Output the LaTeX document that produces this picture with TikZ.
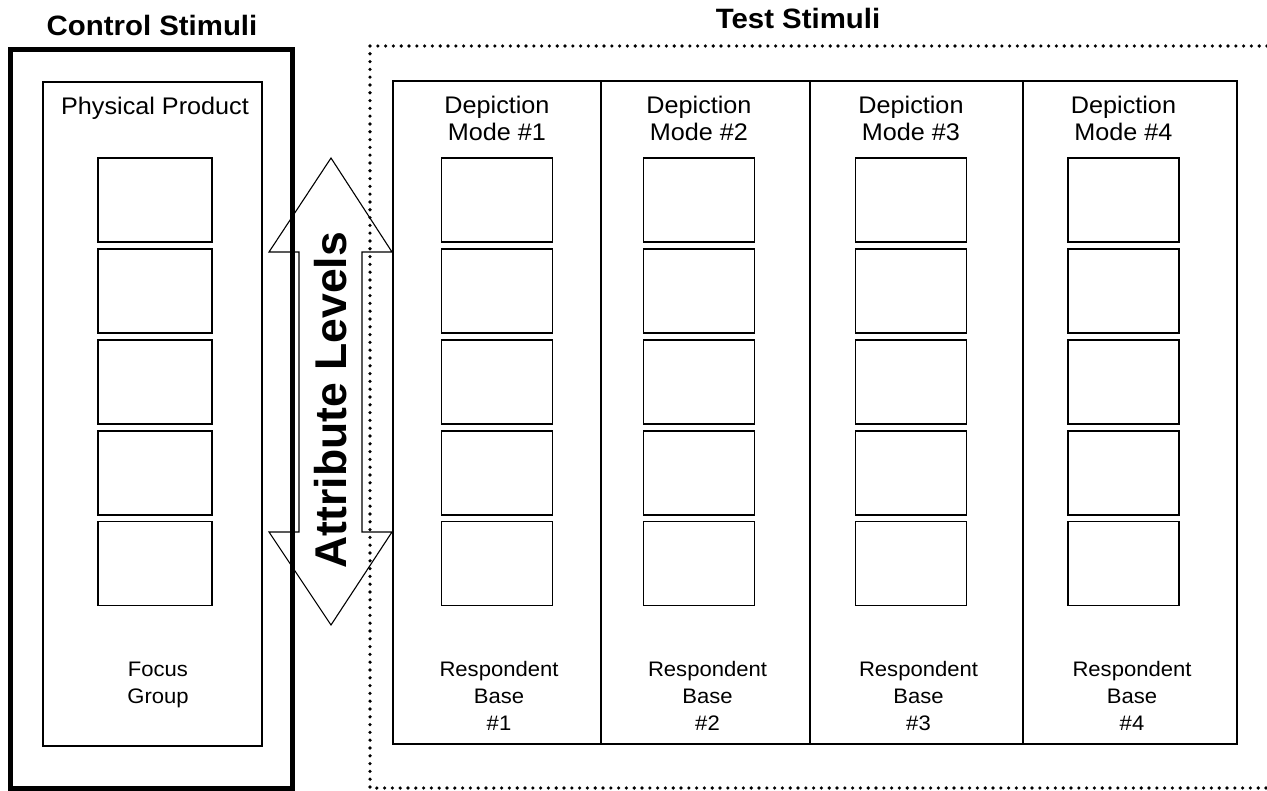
\documentclass[tikz,border=0pt]{standalone}
\usepackage{fontspec}
\setmainfont{Liberation Sans}[FakeStretch=1.05]
\newfontfamily\arrowfont{Liberation Sans}
\begin{document}
\begin{tikzpicture}[x=1pt,y=-1pt,
  thinline/.style={line width=1.1pt},
  heavybox/.style={draw, line width=5pt, inner sep=0pt},
  panel/.style={draw, thinline, inner sep=0pt},
  cell/.style={draw, thinline, inner sep=0pt, minimum height=84pt},
  heading/.style={font=\fontsize{28}{32}\selectfont\bfseries},
  toplabel/.style={align=center, font=\fontsize{24}{27}\selectfont},
  botlabel/.style={align=center, font=\fontsize{21}{27}\selectfont},
  dotline/.style={line width=3.6pt, line cap=round, dash pattern=on 0pt off 7.8pt}]
\useasboundingbox (0,0) rectangle (1267,791);

% group headings
\node[heading] (ctitle) at (152,25) {Control Stimuli};
\node[heading] (ttitle) at (798,18.5) {Test Stimuli};

% dotted frame of the test group, open to the right
\coordinate (dtr) at (1267,46);
\coordinate (dtl) at (370,46);
\coordinate (dbl) at (370,788);
\coordinate (dbr) at (1267,788);
\draw[dotline] (dtr) -- (dtl) -- (dbl) -- (dbr);

% control group
\node[heavybox, minimum width=282pt, minimum height=738pt] (control) at (151,419) {};
\node[panel, minimum width=219pt, minimum height=664pt] (physical) at (152.5,414) {};
\node[toplabel] (physlabel) at (155,108) {Physical Product};
\foreach \i/\y in {1/200,2/291,3/382,4/473,5/563.5}
  \node[cell, minimum width=114pt] (ctl\i) at (155,\y) {};
\node[botlabel] (focus) at (158,685) {Focus\\Group};

% test group: four depiction modes
\foreach \k/\cx/\w/\bx in {1/497/208/497, 2/705.5/209/699, 3/916.5/213/911, 4/1130/214/1123.5} {
  \node[panel, minimum width=\w pt, minimum height=663pt] (mode\k) at (\cx,412.5) {};
  \node[toplabel] (mlabel\k) at (\bx,118.5) {Depiction\\Mode \#\k};
  \foreach \i/\y in {1/200,2/291,3/382,4/473,5/563.5}
    \node[cell, minimum width=111pt] (m\k c\i) at (\bx,\y) {};
  \node[botlabel] (base\k) at (\cx+2,696) {Respondent\\Base\\\#\k};
}

% double-headed arrow for the attribute levels
\draw[thinline, line join=miter]
  (331,158) -- (392,252) -- (362,252) -- (362,532) -- (392,532) -- (331,625)
  -- (269,532) -- (299,532) -- (299,252) -- (269,252) -- cycle;
\node[rotate=90, font=\arrowfont\fontsize{44.5}{50}\selectfont\bfseries] (attr) at (330.5,400) {Attribute Levels};
\end{tikzpicture}
\end{document}
